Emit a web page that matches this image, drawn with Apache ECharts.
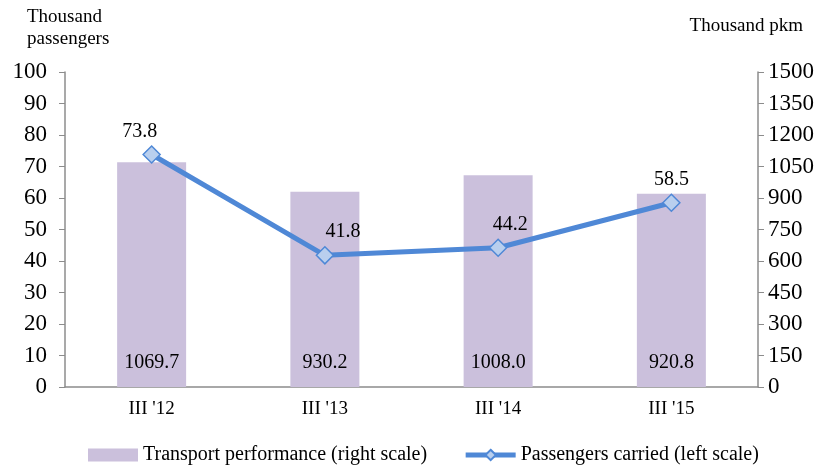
<!DOCTYPE html>
<html>
<head>
<meta charset="utf-8">
<script src="https://cdn.jsdelivr.net/npm/echarts@6/dist/echarts.min.js"></script>
<style>
  html, body { margin: 0; padding: 0; background: #fff; }
  #chart { width: 828px; height: 471px; }
</style>
</head>
<body>
<div id="chart"></div>
<script>
// data
const quarters = ["III '12", "III '13", "III '14", "III '15"];
const transportPerf = [1069.7, 930.2, 1008.0, 920.8];   // thousand pkm, right scale
const passengers = [73.8, 41.8, 44.2, 58.5];            // thousand passengers, left scale

const serif = 'Liberation Serif';
// small nudges so the line labels sit where the original has them
const labelShift = [[-12, 0], [18, 0], [12, 0], [0, 0]];

let myChart = echarts.init(document.getElementById('chart'));
let option = {
  animation: false,
  textStyle: { fontFamily: serif, color: '#000' },
  grid: { left: 65, right: 70, top: 72, bottom: 84 },
  legend: {
    bottom: 1,
    left: 83,
    itemWidth: 50,
    itemHeight: 13,
    itemGap: 36,
    textStyle: { fontFamily: serif, fontSize: 20, color: '#000' },
    data: [
      { name: 'Transport performance (right scale)', icon: 'rect' },
      { name: 'Passengers carried (left scale)', lineStyle: { width: 5 } }
    ]
  },
  xAxis: {
    type: 'category',
    data: quarters,
    axisLine: { lineStyle: { color: '#8c8c8c', width: 1.5 } },
    axisTick: { show: false },
    axisLabel: { fontFamily: serif, fontSize: 19, color: '#000', margin: 13 }
  },
  yAxis: [{
    type: 'value',
    min: 0, max: 100, interval: 10,
    name: 'Thousand\npassengers',
    nameLocation: 'end',
    nameGap: 22,
    nameTextStyle: { fontFamily: serif, fontSize: 19, color: '#000', align: 'left', padding: [0, 0, 0, -38], lineHeight: 22 },
    axisLine: { show: true, lineStyle: { color: '#8c8c8c', width: 1.5 } },
    axisTick: { show: true, length: 6, lineStyle: { color: '#8c8c8c' } },
    splitLine: { show: false },
    axisLabel: { fontFamily: serif, fontSize: 23, color: '#000', margin: 18 }
  }, {
    type: 'value',
    min: 0, max: 1500, interval: 150,
    name: 'Thousand pkm',
    nameLocation: 'end',
    nameGap: 36,
    nameTextStyle: { fontFamily: serif, fontSize: 19, color: '#000', align: 'right', padding: [0, -45, 0, 0] },
    axisLine: { show: true, lineStyle: { color: '#8c8c8c', width: 1.5 } },
    axisTick: { show: true, length: 6, lineStyle: { color: '#8c8c8c' } },
    splitLine: { show: false },
    axisLabel: { fontFamily: serif, fontSize: 23, color: '#000', margin: 10, formatter: v => String(v) }
  }],
  series: [{
    name: 'Transport performance (right scale)',
    type: 'bar',
    yAxisIndex: 1,
    barWidth: 69,
    data: transportPerf,
    itemStyle: { color: '#cbc0dc' },
    label: {
      show: true,
      position: 'insideBottom',
      distance: 14,
      fontFamily: serif,
      fontSize: 20,
      color: '#000',
      formatter: p => p.value.toFixed(1)
    }
  }, {
    name: 'Passengers carried (left scale)',
    type: 'line',
    yAxisIndex: 0,
    data: passengers.map((v, i) => ({
      value: v,
      label: { offset: labelShift[i] }
    })),
    symbol: 'diamond',
    symbolSize: 17,
    lineStyle: { color: '#4f88d6', width: 5 },
    itemStyle: { color: '#b9cfee', borderColor: '#4f88d6', borderWidth: 1.5 },
    label: {
      show: true,
      position: 'top',
      distance: 4,
      fontFamily: serif,
      fontSize: 20,
      color: '#000',
      formatter: p => p.value.toFixed(1)
    },
    z: 3
  }]
};
myChart.setOption(option);
</script>
</body>
</html>
